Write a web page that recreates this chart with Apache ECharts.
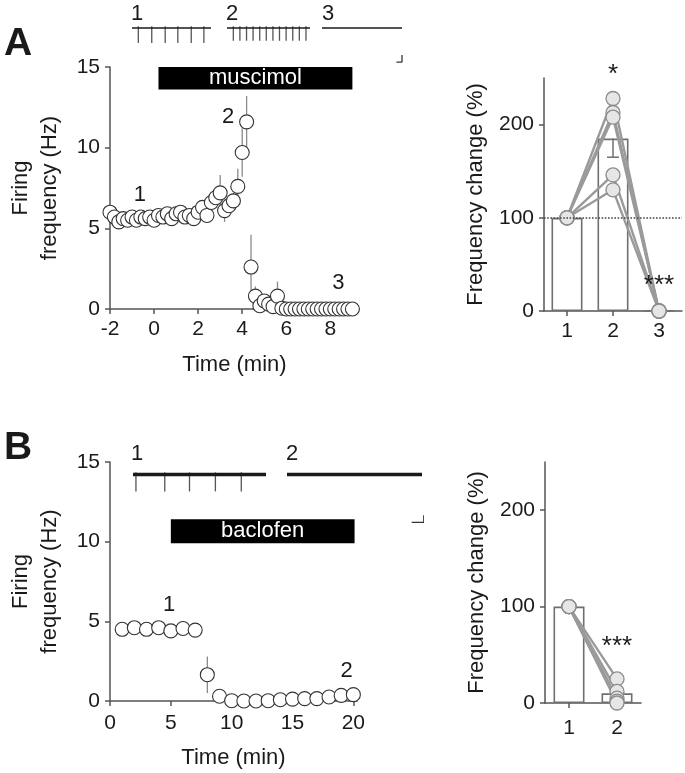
<!DOCTYPE html>
<html><head><meta charset="utf-8">
<script src="https://cdn.jsdelivr.net/npm/echarts@6/dist/echarts.min.js"></script>
<style>html,body{margin:0;padding:0;background:#fff}#c{width:685px;height:773px}</style>
</head><body><div id="c"></div>
<script>
// ---------- Data ----------
const timeA = [-2,-1.8,-1.6,-1.4,-1.2,-1,-0.8,-0.6,-0.4,-0.2,0,0.2,0.4,0.6,0.8,1,1.2,1.4,1.6,1.8,2,2.2,2.4,2.6,2.8,3,3.2,3.4,3.6,3.8,4,4.2,4.4,4.6,4.8,5,5.2,5.4,5.6,5.8,6,6.2,6.4,6.6,6.8,7,7.2,7.4,7.6,7.8,8,8.2,8.4,8.6,8.8,9];
const freqA = [6.0,5.7,5.4,5.6,5.5,5.7,5.5,5.7,5.6,5.7,5.5,5.8,5.7,5.9,5.6,5.9,6.0,5.7,5.8,5.6,6.0,6.3,5.8,6.6,6.9,7.2,6.1,6.4,6.7,7.6,9.7,11.6,2.6,0.8,0.2,0.5,0.3,0.15,0.8,0.05,0,0,0,0,0,0,0,0,0,0,0,0,0,0,0,0];
const semA  = [0.2,0.2,0.2,0.2,0.2,0.2,0.2,0.2,0.2,0.2,0.2,0.2,0.2,0.2,0.2,0.2,0.2,0.2,0.2,0.2,0.2,0.3,0.3,0.5,0.6,1.1,0.7,0.5,0.5,1.1,1.5,1.6,2.0,0.6,0.3,0.3,0.2,0.2,0.9,0.1,0,0,0,0,0,0,0,0,0,0,0,0,0,0,0,0];
const timeB = [1,2,3,4,5,6,7,8,9,10,11,12,13,14,15,16,17,18,19,20];
const freqB = [4.5,4.6,4.5,4.6,4.4,4.55,4.45,1.65,0.3,0.02,0,0,0.02,0.08,0.12,0.15,0.15,0.25,0.35,0.4];
const semB  = [0.1,0.1,0.1,0.1,0.1,0.1,0.1,1.15,0.1,0.05,0.05,0.05,0.05,0.05,0.05,0.05,0.05,0.05,0.05,0.05];

const catsA = ['1','2','3'];
const meanA = [100,185,0];
const semBarA = [0,20,0];
const cellsA = [[100,228,0],[100,213,0],[100,208,0],[100,146,0],[100,130,0]];
const catsB = ['1','2'];
const meanB = [100,10];
const cellsB = [[100,25],[100,12],[100,5],[100,2],[100,0]];

const drugA = {name:'muscimol', start:0.2, end:9.0, low:13.6, high:15};
const drugB = {name:'baclofen', start:5.0, end:20.1, low:9.9, high:11.4};
const notesA = [[-0.64,7.07,'1'],[3.36,11.9,'2'],[8.36,1.6,'3']];
const notesB = [[4.85,6.0,'1'],[19.45,1.9,'2']];
const starsA = [['2',253,'*'],['3',27,'***']];
const starsB = [['2',58,'***']];

// raw traces (spike times in s)
const spikesA1 = [0.08,0.25,0.42,0.58,0.75,0.91];
const spikesA2 = [0.08,0.163,0.247,0.33,0.414,0.497,0.581,0.664,0.748,0.832,0.915,0.999];
const spikesA3 = [];
const spikesB1 = [0.025,0.27,0.48,0.70,0.92];
const spikesB2 = [];
const durA = [1.0,1.05,1.01];
const durB = [1.13,1.14];
const scaleA = [[0.94,-2.27],[1.01,-2.27],[1.01,-1.8]];
const scaleB = [[1.053,-2.82],[1.155,-2.82],[1.155,-2.41]];

// ---------- Styles ----------
const FONT = 'Liberation Sans, Arial, Helvetica, sans-serif';
const TXT = '#1a1a1a';
const AX = '#555';
const axLine = {show:true, onZero:false, lineStyle:{color:AX, width:1.5}};
const axTick = (vals)=>({show:true, length:5, lineStyle:{color:AX, width:1.5}, customValues:vals});
const axLab = (vals, margin)=>({color:TXT, fontSize:21, fontFamily:FONT, margin:margin, customValues:vals});
const nameStyle = {color:TXT, fontSize:22, fontFamily:FONT, lineHeight:29};

const grids = [
  {left:110, top:67, width:249, height:242},   // 0 A left
  {left:544, top:78, width:138, height:233},   // 1 A right
  {left:110, top:462, width:247, height:242},  // 2 B left
  {left:545, top:462, width:96, height:241},   // 3 B right
  {left:132, top:25, width:79, height:18},     // 4 A trace1
  {left:227, top:25, width:83, height:18},     // 5 A trace2
  {left:322, top:25, width:80, height:18},     // 6 A trace3
  {left:133, top:471, width:133, height:20.4}, // 7 B trace1
  {left:287, top:471, width:135, height:20.4}  // 8 B trace2
];

const catTick = {show:true,length:5,alignWithLabel:true,lineStyle:{color:AX,width:1.5}};
const xAxes = [
  {gridIndex:0, type:'value', min:-2, max:9.3, axisLine:axLine, axisTick:axTick([-2,0,2,4,6,8]), axisLabel:axLab([-2,0,2,4,6,8],10), splitLine:{show:false},
   name:'Time (min)', nameLocation:'middle', nameGap:41, nameTextStyle:nameStyle},
  {gridIndex:1, type:'category', data:catsA, axisLine:axLine, axisTick:catTick, axisLabel:{color:TXT,fontSize:21,fontFamily:FONT,margin:10}},
  {gridIndex:2, type:'value', min:0, max:20.3, axisLine:axLine, axisTick:axTick([0,5,10,15,20]), axisLabel:axLab([0,5,10,15,20],12), splitLine:{show:false},
   name:'Time (min)', nameLocation:'middle', nameGap:42, nameTextStyle:nameStyle},
  {gridIndex:3, type:'category', data:catsB, axisLine:axLine, axisTick:catTick, axisLabel:{color:TXT,fontSize:21,fontFamily:FONT,margin:15}},
  {gridIndex:4, type:'value', min:0, max:durA[0], show:false},
  {gridIndex:5, type:'value', min:0, max:durA[1], show:false},
  {gridIndex:6, type:'value', min:0, max:durA[2], show:false},
  {gridIndex:7, type:'value', min:0, max:durB[0], show:false},
  {gridIndex:8, type:'value', min:0, max:durB[1], show:false}
];
const yAxes = [
  {gridIndex:0, type:'value', min:0, max:15, interval:5, axisLine:axLine, axisTick:axTick([0,5,10,15]), axisLabel:axLab([0,5,10,15],10), splitLine:{show:false},
   name:'Firing\nfrequency (Hz)', nameLocation:'middle', nameGap:46, nameTextStyle:nameStyle},
  {gridIndex:1, type:'value', min:0, max:250, axisLine:axLine, axisTick:axTick([0,100,200]), axisLabel:axLab([0,100,200],10), splitLine:{show:false},
   name:'Frequency change (%)', nameLocation:'middle', nameGap:54, nameTextStyle:nameStyle},
  {gridIndex:2, type:'value', min:0, max:15, interval:5, axisLine:axLine, axisTick:axTick([0,5,10,15]), axisLabel:axLab([0,5,10,15],10), splitLine:{show:false},
   name:'Firing\nfrequency (Hz)', nameLocation:'middle', nameGap:46, nameTextStyle:nameStyle},
  {gridIndex:3, type:'value', min:0, max:250, axisLine:axLine, axisTick:axTick([0,100,200]), axisLabel:axLab([0,100,200],10), splitLine:{show:false},
   name:'Frequency change (%)', nameLocation:'middle', nameGap:54, nameTextStyle:nameStyle},
  {gridIndex:4, type:'value', min:-1, max:0.2, show:false},
  {gridIndex:5, type:'value', min:-1, max:0.2, show:false},
  {gridIndex:6, type:'value', min:-1, max:0.2, show:false},
  {gridIndex:7, type:'value', min:-1, max:0.2, show:false},
  {gridIndex:8, type:'value', min:-1, max:0.2, show:false}
];

const series = [];

function errSeries(xi, times, vals, sems){
  series.push({type:'custom', xAxisIndex:xi, yAxisIndex:xi, z:1, silent:true,
    data: times.map((t,i)=>[t, vals[i], sems[i]]),
    renderItem:(p, api)=>{
      const x=api.value(0), y=api.value(1), e=api.value(2);
      const a=api.coord([x,y+e]), b=api.coord([x,Math.max(0,y-e)]);
      return {type:'line', shape:{x1:a[0],y1:a[1],x2:b[0],y2:b[1]}, style:{stroke:'#8a8a8a', lineWidth:1.3}};
    }});
}
function timeCourse(xi, times, vals, drug, notes){
  series.push({type:'scatter', xAxisIndex:xi, yAxisIndex:xi, z:3, symbol:'circle', symbolSize:14,
    itemStyle:{color:'#fff', borderColor:'#333', borderWidth:1.1, opacity:1},
    data: times.map((t,i)=>[t, vals[i]]),
    markArea:{silent:true, itemStyle:{color:'#000', opacity:1},
      label:{show:true, position:'inside', color:'#fff', fontSize:22, fontFamily:FONT},
      data:[[{name:drug.name, xAxis:drug.start, yAxis:drug.low},{xAxis:drug.end, yAxis:drug.high}]]}
  });
  series.push({type:'scatter', xAxisIndex:xi, yAxisIndex:xi, z:4, symbolSize:0, clip:false, silent:true,
    itemStyle:{opacity:1},
    data: notes.map(n=>({value:[n[0],n[1]], name:n[2]})),
    label:{show:true, position:'inside', formatter:'{b}', color:TXT, fontSize:22, fontFamily:FONT, opacity:1}});
}
function summary(xi, cats, means, cells, stars, sems, dotted){
  if (dotted){
    series.push({type:'line', xAxisIndex:xi, yAxisIndex:xi, z:1, data:[], silent:true,
      markLine:{silent:true, symbol:'none', label:{show:false}, lineStyle:{type:'dotted', color:'#444', width:1.6},
        data:[{yAxis:100}]}});
  }
  series.push({type:'bar', xAxisIndex:xi, yAxisIndex:xi, z:2, barWidth:31, data:means,
    itemStyle:{color:'#fff', borderColor:'#707070', borderWidth:1.6}});
  if (sems){
    series.push({type:'custom', xAxisIndex:xi, yAxisIndex:xi, z:3, silent:true,
      data: means.map((m,i)=>[i, m, sems[i]]).filter(d=>d[2]>0),
      renderItem:(p, api)=>{
        const a=api.coord([api.value(0), api.value(1)]), b=api.coord([api.value(0), api.value(1)-api.value(2)]);
        return {type:'group', children:[
          {type:'line', shape:{x1:a[0],y1:a[1],x2:b[0],y2:b[1]}, style:{stroke:'#707070', lineWidth:1.5}},
          {type:'line', shape:{x1:b[0]-6,y1:b[1],x2:b[0]+6,y2:b[1]}, style:{stroke:'#707070', lineWidth:1.5}}]};
      }});
  }
  cells.forEach(c=>{
    series.push({type:'line', xAxisIndex:xi, yAxisIndex:xi, z:4, data:c, clip:false, silent:true,
      symbol:'circle', symbolSize:14,
      lineStyle:{color:'#9a9a9a', width:2.4},
      itemStyle:{color:'#e6e6e6', borderColor:'#8c8c8c', borderWidth:1.3}});
  });
  series.push({type:'scatter', xAxisIndex:xi, yAxisIndex:xi, z:6, symbolSize:0, clip:false, silent:true,
    itemStyle:{opacity:1},
    data: stars.map(s=>({value:[s[0],s[1]], name:s[2]})),
    label:{show:true, position:'inside', formatter:'{b}', color:TXT, fontSize:26, fontFamily:FONT, opacity:1}});
}
function trace(xi, spikes, dur, baseW, depth){
  series.push({type:'line', xAxisIndex:xi, yAxisIndex:xi, z:2, symbol:'none', silent:true,
    data:[[0,0],[dur,0]], lineStyle:{color:'#1a1a1a', width:baseW}});
  series.push({type:'custom', xAxisIndex:xi, yAxisIndex:xi, z:1, silent:true,
    data: spikes.map(t=>[t]),
    renderItem:(p, api)=>{
      const a=api.coord([api.value(0), 0.12]), b=api.coord([api.value(0), -depth]);
      return {type:'line', shape:{x1:a[0],y1:a[1],x2:b[0],y2:b[1]}, style:{stroke:'#555', lineWidth:1.3}};
    }});
}
function scaleBar(xi, pts){
  series.push({type:'line', xAxisIndex:xi, yAxisIndex:xi, clip:false, symbol:'none', silent:true,
    data:pts, lineStyle:{color:'#333', width:1.3}});
}

errSeries(0, timeA, freqA, semA);
timeCourse(0, timeA, freqA, drugA, notesA);
summary(1, catsA, meanA, cellsA, starsA, semBarA, true);
errSeries(2, timeB, freqB, semB);
timeCourse(2, timeB, freqB, drugB, notesB);
summary(3, catsB, meanB, cellsB, starsB, null, false);
trace(4, spikesA1, durA[0], 1.4, 1);
trace(5, spikesA2, durA[1], 1.4, 0.85);
trace(6, spikesA3, durA[2], 1.4, 1);
scaleBar(6, scaleA);
trace(7, spikesB1, durB[0], 3.5, 1);
trace(8, spikesB2, durB[1], 3.5, 1);
scaleBar(8, scaleB);

const txt = (t, x, y, size, bold)=>({type:'text', left:x, top:y, silent:true,
  style:{text:t, fill:TXT, font:(bold?'bold ':'')+size+'px '+FONT}});

const chart = echarts.init(document.getElementById('c'), null, {renderer:'canvas'});
chart.setOption({
  animation:false,
  backgroundColor:'#fff',
  grid: grids,
  xAxis: xAxes,
  yAxis: yAxes,
  series: series,
  graphic: [
    txt('A', 4, 25, 39, true), txt('B', 4, 429, 39, true),
    txt('1', 131, 3, 22), txt('2', 226, 3, 22), txt('3', 322, 3, 22),
    txt('1', 131, 443, 22), txt('2', 286, 443, 22)
  ]
});
</script></body></html>
